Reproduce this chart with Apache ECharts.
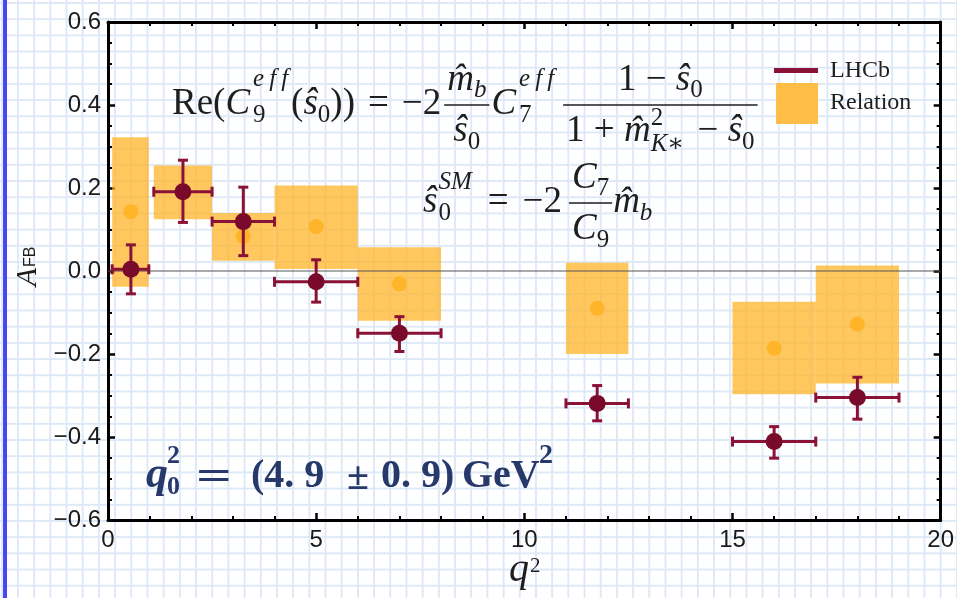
<!DOCTYPE html>
<html>
<head>
<meta charset="utf-8">
<script src="https://cdn.jsdelivr.net/npm/echarts@6/dist/echarts.min.js"></script>
<style>
  html, body { margin: 0; padding: 0; }
  body {
    width: 957px; height: 598px; overflow: hidden; position: relative;
    background-color: #ffffff;
    background-image:
      linear-gradient(90deg, #dde9f7 2px, transparent 2px),
      linear-gradient(180deg, #dde9f7 2px, transparent 2px);
    background-size: 16.2px 16.2px;
    background-position: 17px 2px;
  }
  #edge { position: absolute; left: 3px; top: 0; width: 4px; height: 598px; background: #4646f4; }
  #chart { position: absolute; left: 0; top: 0; width: 957px; height: 598px; }
</style>
</head>
<body>
<div id="edge"></div>
<div id="chart"></div>
<script>
// q^2 bins (GeV^2)
const binLo = [0.1, 1.1, 2.5, 4.0, 6.0, 11.0, 15.0, 17.0];
const binHi = [0.98, 2.5, 4.0, 6.0, 8.0, 12.5, 17.0, 19.0];

// "Relation" prediction: band per bin and central value
const relX    = [0.55, 1.8, 3.25, 5.0, 7.0, 11.75, 16.0, 18.0];
const relY    = [0.143, 0.19, 0.083, 0.107, -0.031, -0.09, -0.186, -0.128];
const relLow  = [-0.038, 0.125, 0.025, 0.005, -0.12, -0.2, -0.297, -0.271];
const relHigh = [0.322, 0.254, 0.14, 0.206, 0.057, 0.02, -0.074, 0.013];

// LHCb measurement
const lhcbX    = [0.55, 1.8, 3.25, 5.0, 7.0, 11.75, 16.0, 18.0];
const lhcbY    = [0.004, 0.191, 0.119, -0.026, -0.15, -0.319, -0.411, -0.305];
const lhcbLow  = [-0.055, 0.117, 0.037, -0.075, -0.194, -0.361, -0.451, -0.357];
const lhcbHigh = [0.063, 0.267, 0.202, 0.027, -0.11, -0.276, -0.375, -0.256];

const RED = '#8a1236';
const RED_PT = '#7a0a2c';
const BAND = 'rgba(255,180,40,0.75)';
const DOT = '#ffb52a';
const INK = '#1e1e1e';
const SERIF = "'Liberation Serif', 'DejaVu Serif', serif";
const SANS = "'Liberation Sans', Arial, sans-serif";

// --- tiny math typesetting for the annotations ---
const mctx = document.createElement('canvas').getContext('2d');
const fontOf = (o) => (o.it ? 'italic ' : '') + (o.b ? 'bold ' : '') + (o.s || 36) + 'px ' + (o.f || SERIF);
const textW = (t, o) => { mctx.font = fontOf(o); return mctx.measureText(t).width; };

function itemW(item) {
  if (item.stack) return Math.max(...item.stack.map(([t, o]) => textW(t, o))) + (item.pad || 0);
  if (item.frac) return fracW(item) + (item.pad || 0);
  const [t, o = {}] = item;
  return textW(t, o) + (o.pad || 0);
}
const rowW = (items) => items.reduce((w, it) => w + itemW(it), 0);
const fracW = (f) => Math.max(rowW(f.frac[0]), rowW(f.frac[1])) + 6;

function row(items, x, y, out) {
  items.forEach((item) => {
    if (item.stack) {
      item.stack.forEach(([t, o]) => put(t, o, x, y, out));
    } else if (item.frac) {
      const w = fracW(item), s = item.s || 36, cx = x + w / 2, by = y + (item.dy || 1);
      row(item.frac[0], cx - rowW(item.frac[0]) / 2, by - 0.68 * s, out);
      row(item.frac[1], cx - rowW(item.frac[1]) / 2, by + 0.72 * s, out);
      out.push({ type: 'line', silent: true, z: 50, shape: { x1: x, y1: by, x2: x + w, y2: by },
        style: { stroke: INK, lineWidth: 1.3 } });
    } else {
      put(item[0], item[1] || {}, x, y, out);
    }
    x += itemW(item);
  });
  return x;
}
function put(t, o, x, y, out) {
  out.push({ type: 'text', x: x, y: y + (o.dy || 0), silent: true, z: 50,
    style: { text: t, font: fontOf(o), fill: o.c || INK, align: 'left', verticalAlign: 'middle' } });
}

const graphics = [];
const F = 37, S = 25, TH = '\u2009';
const rm = (t, pad) => [t, { s: F, pad: pad || 0 }];
const mi = (t, pad) => [t, { it: true, s: F, pad: pad || 0 }];
const sb = (t, pad) => [t, { s: S, dy: 11, pad: pad || 0 }];
const sbi = (t, pad) => [t, { it: true, s: S, dy: 11, pad: pad || 0 }];
const spi = (t) => [t, { it: true, s: S, dy: -25 }];
const EFF = 'e' + TH + 'f' + TH + 'f';

// Re(C9eff(s0)) = -2 mb/s0 C7eff (1-s0)/(1+mK*^2-s0)
row([
  rm('Re('), mi('C', 3),
  { stack: [spi(EFF), [ '9', { s: S, dy: 11 } ]], pad: 3 },
  rm('('), mi('\u015D'), sb('0'), rm('))', 13),
  rm('=', 13), rm('\u22122', 3),
  { frac: [[mi('m\u0302'), sbi('b')], [mi('\u015D'), sb('0')]], s: F, pad: 2 },
  mi('C', 3),
  { stack: [spi(EFF), [ '7', { s: S, dy: 11 } ]], pad: 9 },
  { frac: [
      [rm('1 \u2212 '), mi('\u015D'), sb('0')],
      [rm('1 + '), mi('m\u0302'), { stack: [[ '2', { s: S, dy: -13 } ], [ 'K\u2217', { it: true, s: S, dy: 13 } ]], pad: 4 },
       rm(' \u2212 '), mi('\u015D'), sb('0')]
    ], s: F }
], 172, 104, graphics);

// s0^SM = -2 C7/C9 mb
row([
  mi('\u015D', 1),
  { stack: [['SM', { it: true, s: S, dy: -20 }], ['0', { s: S, dy: 11 }]], pad: 16 },
  rm('=', 14), rm('\u22122', 7),
  { frac: [[mi('C'), sb('7')], [mi('C'), sb('9')]], s: F, pad: 1 },
  mi('m\u0302'), sbi('b')
], 423, 202, graphics);

// q0^2 = (4.9 +- 0.9) GeV^2
const NAVY = '#26396a';
const bq = (t, x, y, s, o = {}) => graphics.push({
  type: 'text', x: x, y: y, silent: true, z: 50, scaleX: o.sx || 1,
  style: { text: t, fill: NAVY, align: o.align || 'left', verticalAlign: 'middle',
    font: (o.it ? 'italic ' : '') + 'bold ' + s + 'px ' + SERIF }
});
bq('q', 146, 476, 44, { it: true });
bq('2', 167, 456, 26);
bq('0', 167, 487, 26);
bq('=', 214, 478, 42, { align: 'center', sx: 1.5 });
bq('(4. 9', 251, 477, 40);
bq('\u00B1', 358, 479, 40, { align: 'center' });
bq('0. 9)', 381, 477, 40);
bq('GeV', 462, 477, 40);
bq('2', 539, 456, 28);

// legend
graphics.push(
  { type: 'rect', silent: true, shape: { x: 774, y: 68, width: 44, height: 5 }, style: { fill: RED } },
  { type: 'rect', silent: true, shape: { x: 776, y: 83, width: 42, height: 41 }, style: { fill: '#ffbd47' } },
  { type: 'text', x: 830, y: 71, silent: true, style: { text: 'LHCb', font: '24px ' + SERIF, fill: INK, verticalAlign: 'middle' } },
  { type: 'text', x: 830, y: 103, silent: true, style: { text: 'Relation', font: '24px ' + SERIF, fill: INK, verticalAlign: 'middle' } }
);

// axis titles
graphics.push({
  type: 'group', x: 28, y: 271, rotation: Math.PI / 2, silent: true,
  children: [
    { type: 'text', x: 3, y: 0, style: { text: 'A', font: 'italic 30px ' + SERIF, fill: INK, align: 'right', verticalAlign: 'middle' } },
    { type: 'text', x: 4, y: 3, style: { text: 'FB', font: '16px ' + SANS, fill: INK, align: 'left', verticalAlign: 'middle' } }
  ]
});
graphics.push(
  { type: 'text', x: 509, y: 570, silent: true, style: { text: 'q', font: 'italic 40px ' + SERIF, fill: INK, verticalAlign: 'middle' } },
  { type: 'text', x: 530, y: 566, silent: true, style: { text: '2', font: '21px ' + SERIF, fill: INK, verticalAlign: 'middle' } }
);

const frameAxis = (extra) => Object.assign({
  type: 'value',
  axisLine: { show: true, onZero: false, lineStyle: { color: '#000', width: 3 } },
  axisTick: { show: true, inside: true, length: 7, lineStyle: { color: '#000', width: 2.5 } },
  splitLine: { show: false },
  minorSplitLine: { show: false }
}, extra);
const minor = (n) => ({ show: true, splitNumber: n, length: 4, lineStyle: { color: '#000', width: 2 } });

const yFmt = (v) => Math.abs(v) < 1e-9 ? '0.0' : v.toFixed(1).replace('-', '\u2212');

const chart = echarts.init(document.getElementById('chart'), null, { renderer: 'canvas' });
chart.setOption({
  animation: false,
  backgroundColor: 'transparent',
  grid: { left: 108, right: 15, top: 22, bottom: 78 },
  xAxis: [
    frameAxis({ min: 0, max: 20, interval: 5, position: 'bottom', minorTick: minor(5),
      axisLabel: { fontSize: 24, color: '#1a1a1a', fontFamily: SANS, margin: 8 } }),
    frameAxis({ min: 0, max: 20, interval: 5, position: 'top', minorTick: minor(5),
      axisLabel: { show: false } })
  ],
  yAxis: [
    frameAxis({ min: -0.6, max: 0.6, interval: 0.2, position: 'left', minorTick: minor(4),
      axisLabel: { fontSize: 24, color: '#1a1a1a', fontFamily: SANS, margin: 7, formatter: yFmt } }),
    frameAxis({ min: -0.6, max: 0.6, interval: 0.2, position: 'right', minorTick: minor(4),
      axisLabel: { show: false } })
  ],
  graphic: graphics,
  series: [
    {
      name: 'Relation',
      type: 'custom',
      z: 2,
      data: binLo.map((lo, i) => [lo, binHi[i], relLow[i], relHigh[i]]),
      encode: { x: [0, 1], y: [2, 3] },
      renderItem: (params, api) => {
        const p0 = api.coord([api.value(0), api.value(3)]);
        const p1 = api.coord([api.value(1), api.value(2)]);
        return { type: 'rect', shape: { x: p0[0], y: p0[1], width: p1[0] - p0[0], height: p1[1] - p0[1] },
          style: { fill: BAND } };
      }
    },
    {
      name: 'Relation centre',
      type: 'scatter',
      z: 3,
      symbolSize: 15,
      itemStyle: { color: DOT, opacity: 1 },
      data: relX.map((x, i) => [x, relY[i]])
    },
    {
      name: 'zero',
      type: 'line',
      z: 3,
      symbol: 'none',
      silent: true,
      lineStyle: { color: '#555', width: 1 },
      data: [[0, 0], [20, 0]]
    },
    {
      name: 'LHCb errors',
      type: 'custom',
      z: 4,
      data: lhcbX.map((x, i) => [x, lhcbY[i], binLo[i], binHi[i], lhcbLow[i], lhcbHigh[i]]),
      encode: { x: 0, y: 1 },
      renderItem: (params, api) => {
        const x = api.value(0), y = api.value(1);
        const c = api.coord([x, y]);
        const l = api.coord([api.value(2), y])[0], r = api.coord([api.value(3), y])[0];
        const b = api.coord([x, api.value(4)])[1], t = api.coord([x, api.value(5)])[1];
        const cap = 5, st = { stroke: RED, lineWidth: 3 };
        const seg = (x1, y1, x2, y2) => ({ type: 'line', shape: { x1, y1, x2, y2 }, style: st });
        return { type: 'group', children: [
          seg(l, c[1], r, c[1]), seg(c[0], t, c[0], b),
          seg(l, c[1] - cap, l, c[1] + cap), seg(r, c[1] - cap, r, c[1] + cap),
          seg(c[0] - cap, t, c[0] + cap, t), seg(c[0] - cap, b, c[0] + cap, b)
        ] };
      }
    },
    {
      name: 'LHCb',
      type: 'scatter',
      z: 5,
      symbolSize: 17,
      itemStyle: { color: RED_PT, opacity: 1 },
      data: lhcbX.map((x, i) => [x, lhcbY[i]])
    }
  ]
});
</script>
</body>
</html>
